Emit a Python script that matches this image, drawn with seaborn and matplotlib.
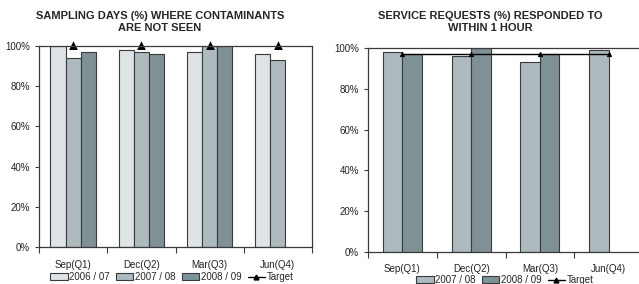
import numpy as np
import pandas as pd
import matplotlib
matplotlib.use("Agg")
import matplotlib.pyplot as plt
from matplotlib.patches import Patch
from matplotlib.lines import Line2D
from matplotlib.ticker import FixedLocator
import seaborn as sns

# data
quarters = ["Sep(Q1)", "Dec(Q2)", "Mar(Q3)", "Jun(Q4)"]
years_left = ["2006 / 07", "2007 / 08", "2008 / 09"]
sampling_0607 = [100, 98, 97, 96]
sampling_0708 = [94, 97, 100, 93]
sampling_0809 = [97, 96, 100, np.nan]
sampling_target = [100, 100, 100, 100]

years_right = ["2007 / 08", "2008 / 09"]
service_0708 = [98, 96, 93, 99]
service_0809 = [97, 100, 97, np.nan]
service_target = [97, 97, 97, 97]

colours = {"2006 / 07": "#dde3e6", "2007 / 08": "#aabbc1", "2008 / 09": "#7b939a"}

sns.set_style("white")
plt.rcParams["font.family"] = ["Liberation Sans", "DejaVu Sans"]

df_left = pd.DataFrame({
    "quarter": quarters * 3,
    "year": np.repeat(years_left, 4),
    "value": sampling_0607 + sampling_0708 + sampling_0809,
})
df_right = pd.DataFrame({
    "quarter": quarters * 2,
    "year": np.repeat(years_right, 4),
    "value": service_0708 + service_0809,
})

fig = plt.figure(figsize=(6.39, 2.84), dpi=100)
ax1 = fig.add_axes([39/639, 1-247/284, (312-39)/639, (247-46)/284])
ax2 = fig.add_axes([368/639, 1-252/284, (643-368)/639, (252-48)/284])

edge = "#3a3a3a"

def style_axis(ax, box):
    ax.set_ylim(0, 100)
    ax.set_xlim(-0.5, 3.5)
    ax.set_yticks([0, 20, 40, 60, 80, 100])
    ax.set_yticklabels([f"{v}%" for v in range(0, 101, 20)])
    ax.set_xticks(range(4))
    ax.set_xticklabels(quarters)
    ax.xaxis.set_minor_locator(FixedLocator([-0.5, 0.5, 1.5, 2.5, 3.5]))
    ax.tick_params(axis="x", which="major", length=0, pad=9, labelsize=7, colors="#222222")
    ax.tick_params(axis="x", which="minor", length=4, width=0.8, color=edge, direction="out", bottom=True)
    ax.tick_params(axis="y", length=3, width=0.8, color=edge, direction="out", left=True, labelsize=7, colors="#222222")
    ax.set_xlabel("")
    ax.set_ylabel("")
    for s in ["left", "bottom", "top"]:
        ax.spines[s].set_visible(True)
        ax.spines[s].set_color(edge)
        ax.spines[s].set_linewidth(0.9)
    ax.spines["right"].set_visible(box)
    ax.spines["right"].set_color(edge)
    ax.spines["right"].set_linewidth(0.9)

# left chart
sns.barplot(data=df_left, x="quarter", y="value", hue="year", hue_order=years_left,
            palette=colours, width=0.67, edgecolor=edge, linewidth=0.8,
            errorbar=None, legend=False, ax=ax1)
sns.pointplot(x=quarters, y=sampling_target, color="black", markers="^",
              linestyles="none", markersize=3, ax=ax1)
style_axis(ax1, True)

# right chart
sns.barplot(data=df_right, x="quarter", y="value", hue="year", hue_order=years_right,
            palette=colours, width=0.57, edgecolor=edge, linewidth=0.8,
            errorbar=None, legend=False, ax=ax2)
sns.pointplot(x=quarters, y=service_target, color="black", markers="^",
              linestyles="-", markersize=3, linewidth=1, ax=ax2)
style_axis(ax2, False)

for ax in (ax1, ax2):
    for ln in ax.lines:
        ln.set_clip_on(False)

fig.text(160/639, 1-22/284, "SAMPLING DAYS (%) WHERE CONTAMINANTS\nARE NOT SEEN",
         ha="center", va="center", fontsize=8, fontweight="bold", linespacing=1.35)
fig.text(490/639, 1-22/284, "SERVICE REQUESTS (%) RESPONDED TO\nWITHIN 1 HOUR",
         ha="center", va="center", fontsize=8, fontweight="bold", linespacing=1.35)

def legend_handles(years):
    hs = [Patch(facecolor=colours[y], edgecolor=edge, linewidth=0.8, label=y) for y in years]
    hs.append(Line2D([], [], color="black", marker="^", markersize=3.5, linewidth=1, label="Target"))
    return hs

leg_kw = dict(ncol=4, frameon=False, fontsize=7, handlelength=1.8, handleheight=0.7,
              handletextpad=0.2, columnspacing=0.6, borderaxespad=0, borderpad=0)
fig.legend(handles=legend_handles(years_left), loc="center",
           bbox_to_anchor=(172/639, 1-277/284), **leg_kw)
fig.legend(handles=legend_handles(years_right), loc="center",
           bbox_to_anchor=(505/639, 1-280/284), **leg_kw)

fig.savefig("out.png", dpi=100)
